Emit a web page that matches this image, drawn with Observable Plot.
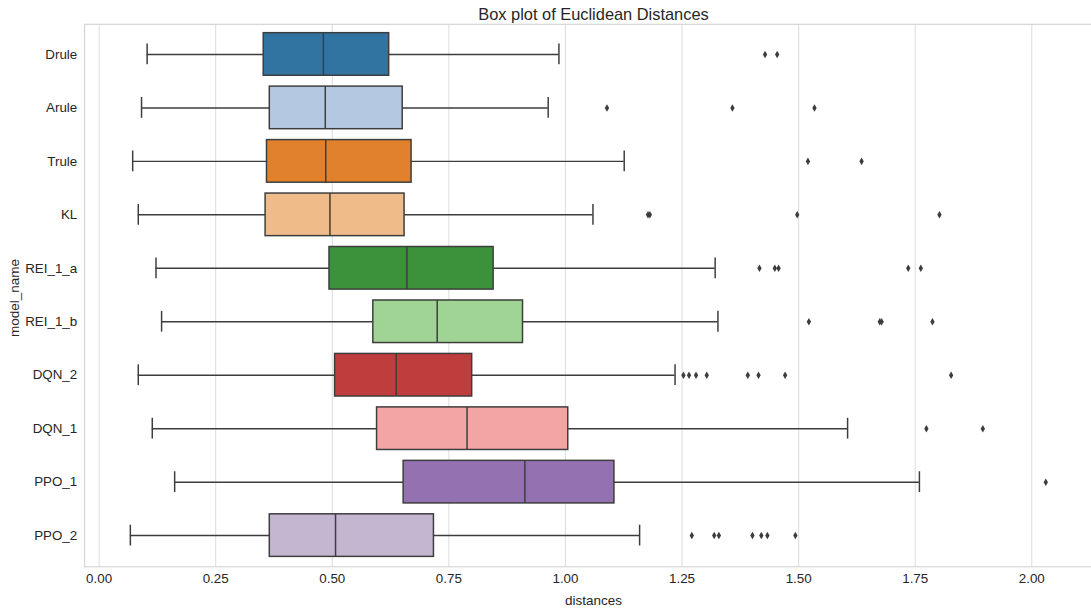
<!DOCTYPE html>
<html>
<head>
<meta charset="utf-8">
<script src="https://cdn.jsdelivr.net/npm/d3@7"></script>
<script src="https://cdn.jsdelivr.net/npm/@observablehq/plot@0.6"></script>
<style>
  html, body { margin: 0; padding: 0; background: #fff; overflow: hidden; }
  #wrap { position: relative; width: 1091px; height: 612px; overflow: hidden;
          font-family: "Liberation Sans", Arial, sans-serif; color: #262626; }
  #title { position: absolute; left: 85px; width: 1017px; top: 6px; text-align: center;
           font-size: 16.4px; line-height: 16.4px; }
  #xlabel { position: absolute; left: 85px; width: 1017px; top: 593px; text-align: center;
            font-size: 13.5px; line-height: 16px; }
  #ylabel { position: absolute; left: 15px; top: 298px; width: 200px; margin-left: -100px; margin-top: -8px;
            text-align: center; font-size: 13.5px; line-height: 16px; transform: rotate(-90deg); }
  #chart { position: absolute; left: 0; top: 0; }
</style>
</head>
<body>
<div id="wrap">
  <div id="chart"></div>
  <div id="title">Box plot of Euclidean Distances</div>
  <div id="xlabel">distances</div>
  <div id="ylabel">model_name</div>
</div>
<script>
const models = ["Drule","Arule","Trule","KL","REI_1_a","REI_1_b","DQN_2","DQN_1","PPO_1","PPO_2"];
const whiskerLow  = [0.103,0.091,0.072,0.084,0.122,0.134,0.084,0.114,0.162,0.067];
const q1          = [0.353,0.366,0.360,0.357,0.494,0.588,0.506,0.596,0.653,0.366];
const median      = [0.481,0.485,0.486,0.495,0.660,0.725,0.637,0.789,0.913,0.507];
const q3          = [0.622,0.651,0.670,0.655,0.846,0.909,0.800,1.006,1.105,0.718];
const whiskerHigh = [0.986,0.963,1.126,1.059,1.321,1.327,1.235,1.605,1.759,1.159];
const outliers = [
  [1.428,1.454],
  [1.089,1.358,1.534],
  [1.520,1.635],
  [1.177,1.181,1.497,1.802],
  [1.416,1.449,1.457,1.735,1.762],
  [1.522,1.674,1.678,1.787],
  [1.253,1.265,1.280,1.303,1.391,1.414,1.471,1.827],
  [1.774,1.895],
  [2.030],
  [1.271,1.319,1.329,1.401,1.420,1.433,1.493]
];
const xTicks = [0,0.25,0.5,0.75,1.0,1.25,1.5,1.75,2.0];
const baseColors = ["#1f77b4","#aec7e8","#ff7f0e","#ffbb78","#2ca02c","#98df8a","#d62728","#ff9896","#9467bd","#c5b0d5"];

// seaborn desaturates palette to 0.75 saturation
const colors = baseColors.map(h => { const c = d3.hsl(h); c.s *= 0.75; return c.formatHex(); });

const boxes = models.map((m, i) => ({model: m, lo: whiskerLow[i], q1: q1[i], med: median[i], q3: q3[i], hi: whiskerHigh[i]}));
const fliers = models.flatMap((m, i) => outliers[i].map(v => ({model: m, value: v})));

const gray = "#3d3d3d";
const font = "Liberation Sans, Arial, sans-serif";

const thinDiamond = {
  draw(ctx, size) {
    const r = Math.sqrt(size / Math.PI);
    ctx.moveTo(0, -r);
    ctx.lineTo(r * 0.58, 0);
    ctx.lineTo(0, r);
    ctx.lineTo(-r * 0.58, 0);
    ctx.closePath();
  }
};

const chart = Plot.plot({
  width: 1102,
  height: 612,
  marginLeft: 85,
  marginRight: 0,
  marginTop: 24,
  marginBottom: 40,
  style: {fontFamily: font, fontSize: "13.5px", color: "#262626", background: "transparent"},
  x: {domain: [-0.031, 2.128]},
  y: {domain: models, paddingInner: 0.2, paddingOuter: 0.1},
  color: {domain: models, range: colors},
  marks: [
    Plot.gridX(xTicks, {stroke: "#dcdcdc", strokeOpacity: 1, strokeWidth: 1}),
    Plot.frame({stroke: "#cccccc", strokeWidth: 1}),
    Plot.axisX(xTicks, {tickSize: 0, tickPadding: 7, tickFormat: d3.format(".2f"), label: null, fontSize: 13.5}),
    Plot.axisY({tickSize: 0, tickPadding: 7.5, label: null, fontSize: 13.5}),
    Plot.ruleY(boxes, {y: "model", x1: "lo", x2: "q1", stroke: gray, strokeWidth: 1.5}),
    Plot.ruleY(boxes, {y: "model", x1: "q3", x2: "hi", stroke: gray, strokeWidth: 1.5}),
    Plot.tickX(boxes, {y: "model", x: "lo", stroke: gray, strokeWidth: 1.5, insetTop: 11, insetBottom: 11}),
    Plot.tickX(boxes, {y: "model", x: "hi", stroke: gray, strokeWidth: 1.5, insetTop: 11, insetBottom: 11}),
    Plot.barX(boxes, {y: "model", x1: "q1", x2: "q3", fill: "model", stroke: gray, strokeWidth: 1.5}),
    Plot.tickX(boxes, {y: "model", x: "med", stroke: gray, strokeWidth: 1.5}),
    Plot.dot(fliers, {y: "model", x: "value", symbol: thinDiamond, r: 3.8, fill: gray, stroke: "none"})
  ]
});
document.getElementById("chart").appendChild(chart);
</script>
</body>
</html>
